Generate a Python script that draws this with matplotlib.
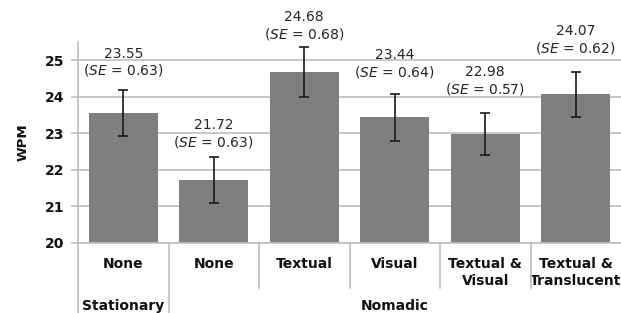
import matplotlib
matplotlib.use("Agg")
import matplotlib.pyplot as plt
from matplotlib.lines import Line2D

categories = ["None", "None", "Textual", "Visual", "Textual &\nVisual", "Textual &\nTranslucent"]
groups = ["Stationary", "Nomadic"]
group_sizes = [1, 5]
means = [23.55, 21.72, 24.68, 23.44, 22.98, 24.07]
ses = [0.63, 0.63, 0.68, 0.64, 0.57, 0.62]
yticks = [20, 21, 22, 23, 24, 25]

# label offsets above error bar tops (points) -- styling only
label_offsets = [8.5, 5, 3.6, 10, 11.5, 11]

plt.rcParams['mathtext.fontset'] = 'custom'
plt.rcParams['mathtext.it'] = 'DejaVu Sans:italic'
plt.rcParams['mathtext.rm'] = 'DejaVu Sans'

W, H = 621, 313
fig = plt.figure(figsize=(W/100, H/100), dpi=100)
ax = fig.add_axes([78/W, 1-243/H, 543/W, (243-42)/H])

x = list(range(len(categories)))
ax.bar(x, [m - 20 for m in means], bottom=20, width=0.76, color="#7f7f7f", zorder=2)
ax.errorbar(x, means, yerr=ses, fmt="none", ecolor="#1a1a1a", elinewidth=1.2,
            capsize=3.5, capthick=1.2, zorder=3)

for xi, m, s, off in zip(x, means, ses, label_offsets):
    ax.annotate(f"{m:.2f}\n($\\it{{SE}}$ = {s:.2f})", (xi, m + s),
                xytext=(0, off), textcoords="offset points", ha="center", va="bottom",
                fontsize=10, color="#262626", linespacing=1.15, annotation_clip=False)

ax.set_ylim(20, 25.5)
ax.set_xlim(-0.5, 5.5)
ax.set_yticks(yticks)
ax.set_yticklabels([str(t) for t in yticks], fontweight="bold", fontsize=10, color="#111111")
ax.yaxis.grid(True, color="#bfbfbf", linewidth=1.2, zorder=0)
ax.set_axisbelow(True)
ax.tick_params(axis="y", length=5, color="#bfbfbf", width=1.2, pad=5)
ax.set_xticks(x)
ax.set_xticklabels(categories, fontweight="bold", fontsize=10, color="#111111", linespacing=1.25)
ax.tick_params(axis="x", length=0, pad=10)
for sp in ["top", "right"]:
    ax.spines[sp].set_visible(False)
ax.spines["left"].set_color("#bfbfbf")
ax.spines["left"].set_linewidth(1.2)
ax.spines["bottom"].set_color("#bfbfbf")
ax.spines["bottom"].set_linewidth(1.2)

ax.set_ylabel("WPM", fontweight="bold", fontsize=9.5, labelpad=11, color="#111111")

# category dividers
trans = ax.get_xaxis_transform()
y_short = -(288-243)/(243-42)
y_long = -(313-243)/(243-42)
boundaries = [i + 0.5 for i in range(len(categories) - 1)]
group_edges = []
acc = 0
for gs in group_sizes:
    acc += gs
    group_edges.append(acc - 0.5)
for b in boundaries:
    y1 = y_long if b in group_edges else y_short
    ax.add_line(Line2D([b, b], [0, y1], transform=trans, color="#bfbfbf", lw=1.2, clip_on=False))
ax.add_line(Line2D([-0.5, -0.5], [0, y_long], transform=trans, color="#bfbfbf", lw=1.2, clip_on=False))

start = -0.5
for g, gs in zip(groups, group_sizes):
    center = start + gs / 2
    ax.text(center, -(306-243)/(243-42), g, transform=trans, ha="center", va="center",
            fontweight="bold", fontsize=10, color="#111111")
    start += gs

fig.savefig("out.png", dpi=100)
